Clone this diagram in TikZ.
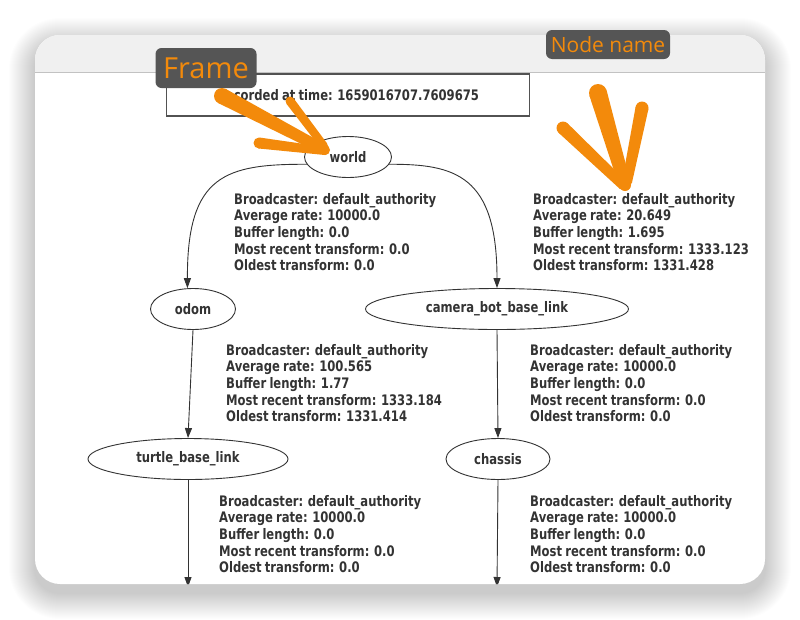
\documentclass[tikz,border=0pt]{standalone}
\usepackage{fontspec}
\usepackage{xcolor}
\usepackage{tikz}
\usetikzlibrary{arrows.meta,calc,shapes.geometric}
\newfontfamily\dotfont[FakeStretch=0.80,WordSpace=0.8]{DejaVu Sans}
\newfontfamily\notefont{Open Sans}
\definecolor{Ink}{HTML}{333333}
\definecolor{Bar}{HTML}{F0F0F0}
\definecolor{BarLine}{HTML}{C2C2C2}
\definecolor{Marker}{HTML}{F38A0B}
\definecolor{Tag}{HTML}{555555}
% tapered marker stroke: start, end, half width at start, half width at end
\newcommand\brush[4]{%
  \fill[Marker] ($(#1)!#3!90:(#2)$) -- ($(#2)!#4!-90:(#1)$) -- ($(#2)!#4!90:(#1)$) -- ($(#1)!#3!-90:(#2)$) -- cycle;
  \fill[Marker] (#1) circle[radius=#3];
  \fill[Marker] (#2) circle[radius=#4];}

\begin{document}
\begin{tikzpicture}[x=1pt,y=-1pt,
  every node/.style={text=Ink},
  frame/.style={ellipse,draw=Ink,line width=0.9pt,minimum height=41pt,inner sep=1pt,font=\dotfont\bfseries\fontsize{14.5}{16.6}\selectfont},
  stats/.style={anchor=north west,align=left,inner sep=0pt,font=\dotfont\bfseries\fontsize{14.5}{16.6}\selectfont},
  tf/.style={-{Triangle[length=10pt,width=7pt]},line width=0.9pt,draw=Ink},
  tag/.style={fill=Tag,rounded corners=6pt,text=Marker,inner sep=0pt}
]
\useasboundingbox (0,0) rectangle (800,619);
\fill[white] (0,0) rectangle (800,619);
\foreach \s in {1,...,26}
  \fill[black,opacity=0.008,rounded corners=25pt+\s pt] (35-\s,35-\s+9) rectangle (765+\s,584+\s+9);
\fill[white,rounded corners=25pt] (35,35) rectangle (765,584);

\begin{scope}
\clip[rounded corners=25pt] (35,35) rectangle (765,584);
\fill[Bar] (35,35) rectangle (765,72);
\draw[BarLine,line width=1pt] (35,72) -- (765,72);
\node[draw=Ink!85,line width=1.2pt,minimum width=363pt,minimum height=42pt,inner sep=0pt,font=\dotfont\bfseries\fontsize{14.5}{16.6}\selectfont] (stamp) at (348,95) {Recorded at time: 1659016707.7609675};

\node[frame,minimum width=87pt] (world) at (348,157) {world};
\node[frame,minimum width=85pt] (odom) at (193,309) {odom};
\node[frame,minimum width=263pt] (cam) at (497,309) {camera\_bot\_base\_link};
\node[frame,minimum width=200pt] (turtle) at (188,459) {turtle\_base\_link};
\node[frame,minimum width=104pt] (chassis) at (498,459) {chassis};
\coordinate (turtleout) at (188,587);
\coordinate (chassisout) at (497,587);

\node[stats] (w2o) at (234,193) {Broadcaster: default\_authority\\Average rate: 10000.0\\Buffer length: 0.0\\Most recent transform: 0.0\\Oldest transform: 0.0};
\node[stats] (w2c) at (533,193) {Broadcaster: default\_authority\\Average rate: 20.649\\Buffer length: 1.695\\Most recent transform: 1333.123\\Oldest transform: 1331.428};
\node[stats] (o2t) at (226,344) {Broadcaster: default\_authority\\Average rate: 100.565\\Buffer length: 1.77\\Most recent transform: 1333.184\\Oldest transform: 1331.414};
\node[stats] (c2ch) at (530,344) {Broadcaster: default\_authority\\Average rate: 10000.0\\Buffer length: 0.0\\Most recent transform: 0.0\\Oldest transform: 0.0};
\node[stats] (t2x) at (219,495) {Broadcaster: default\_authority\\Average rate: 10000.0\\Buffer length: 0.0\\Most recent transform: 0.0\\Oldest transform: 0.0};
\node[stats] (ch2x) at (530,495) {Broadcaster: default\_authority\\Average rate: 10000.0\\Buffer length: 0.0\\Most recent transform: 0.0\\Oldest transform: 0.0};

\draw[tf] (world.190) .. controls (225,164) and (187,175) .. (odom.105);
\draw[tf] (world.-10) .. controls (455,164) and (497,175) .. (cam.north);
\draw[tf] (odom.south) -- (turtle.north);
\draw[tf] (cam.south) -- (chassis.north);
\draw[tf] (turtle.south) -- (turtleout);
\draw[tf] (chassis.south) -- (chassisout);
\end{scope}

\node[tag,minimum width=101pt,minimum height=40pt,font=\notefont\fontsize{29}{29}\selectfont] (frametag) at (206,68) {Frame};
\node[tag,minimum width=124pt,minimum height=29pt,font=\notefont\fontsize{21}{21}\selectfont] (nametag) at (608,44.5) {Node name};

\brush{222,96}{325,150}{8pt}{5pt}
\brush{290,101}{324,146}{4.5pt}{4pt}
\brush{259,143}{325,151}{5.5pt}{4pt}
\brush{598,93}{625,185}{9pt}{6pt}
\brush{563,128}{623,185}{6.5pt}{5pt}
\brush{642,108}{627,182}{6.5pt}{5pt}
\end{tikzpicture}
\end{document}
